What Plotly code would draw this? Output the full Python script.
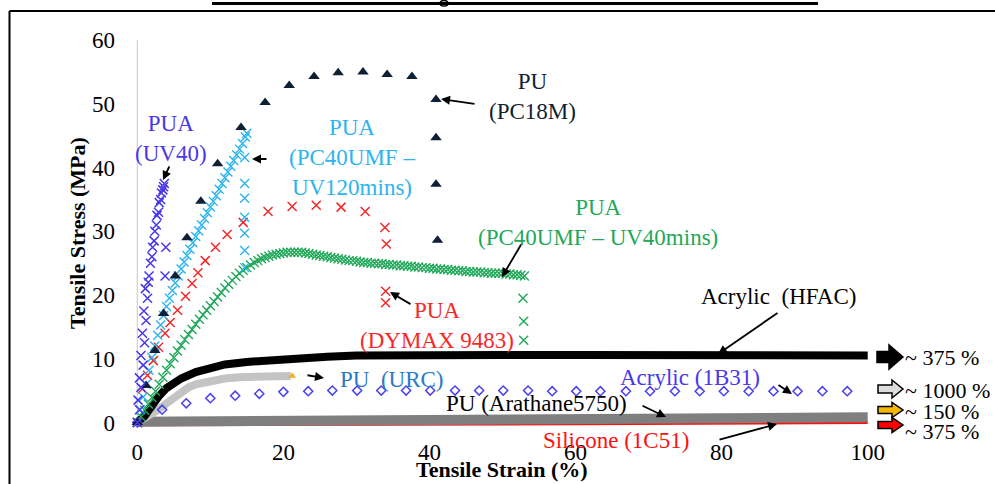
import plotly.graph_objects as go

# ---------------- data ----------------
uv40_strain = [0.0, 0.3, 0.1, 0.5, 0.3, 0.8, 0.5, 1.0, 0.7, 1.2, 0.9, 1.4, 1.1, 1.6, 1.5,
               2.0, 1.8, 2.3, 2.1, 2.6, 2.4, 2.9, 2.7, 3.2, 3.0, 3.5, 3.3, 3.7, 3.6, 3.9, 3.8]
uv40_stress = [0.0, 2.0, 3.5, 5.5, 7.0, 9.0, 10.5, 12.5, 14.0, 16.0, 17.5, 19.5, 21.0, 23.0, 22.0,
               26.0, 25.0, 28.5, 27.5, 31.0, 30.0, 33.0, 32.5, 35.0, 34.5, 36.5, 36.0, 37.5, 37.0, 27.5, 23.0]

uv120_strain = [0.0, 0.4, 0.8, 1.2, 1.6, 2.0, 2.4, 2.8, 3.2, 3.6, 4.0, 4.4, 4.8, 5.2, 5.6, 6.0,
                6.4, 6.8, 7.2, 7.6, 8.0, 8.4, 8.8, 9.2, 9.6, 10.0, 10.4, 10.8, 11.2, 11.6, 12.0,
                12.4, 12.8, 13.2, 13.6, 14.0, 14.4, 14.8, 15.0,
                14.7, 14.7, 14.7, 14.7, 14.7, 14.7, 14.7]
uv120_stress = [0.0, 2.0, 4.0, 6.0, 8.2, 10.2, 12.0, 13.7, 15.3, 16.8, 18.2, 19.5, 20.7, 21.9, 23.0, 24.1,
                25.2, 26.2, 27.2, 28.2, 29.2, 30.1, 31.0, 32.0, 32.9, 33.8, 34.7, 35.6, 36.6, 37.5, 38.4,
                39.3, 40.2, 41.1, 42.0, 42.9, 43.8, 44.8, 45.4,
                41.6, 37.5, 35.2, 32.2, 29.7, 27.0, 24.3]

pc18m_strain = [0.0, 1.2, 2.4, 3.6, 5.2, 6.8, 8.7, 11.0, 14.2, 17.5, 20.8, 24.2, 27.5, 30.9, 34.2,
                37.6, 40.9, 40.9, 40.9, 41.1]
pc18m_stress = [0.0, 5.8, 11.3, 17.1, 23.0, 29.0, 34.7, 40.6, 46.3, 50.2, 52.9, 54.3, 54.9, 55.0, 54.6,
                54.3, 50.7, 44.7, 37.4, 28.6]

dymax_strain = [0.0, 0.7, 1.4, 2.2, 2.9, 3.8, 4.5, 5.5, 6.6, 7.5, 8.3, 9.3, 10.7, 12.3, 14.5,
                17.9, 21.2, 24.5, 27.9, 31.2, 33.9, 34.1, 34.0, 34.0]
dymax_stress = [0.0, 5.3, 7.4, 9.7, 11.8, 14.0, 15.7, 17.6, 19.8, 21.8, 23.5, 25.4, 27.5, 29.5, 31.4,
                33.1, 33.9, 34.1, 33.8, 33.1, 30.6, 28.0, 20.6, 18.8]

uv40m_strain = [0.0, 0.5, 1.0, 1.5, 2.0, 2.5, 3.0, 3.5, 4.0, 4.5, 5.0, 5.5, 6.0, 6.5, 7.0, 7.5,
                8.0, 8.5, 9.0, 9.5, 10.0, 10.5, 11.0, 11.5, 12.0, 12.5, 13.0, 13.5, 14.0, 14.5,
                15.0, 15.5, 16.0, 16.5, 17.0, 17.5, 18.0, 18.5, 19.0, 19.5, 20.0, 20.5, 21.0,
                21.5, 22.0, 22.5, 23.0, 23.5, 24.0, 24.5, 25.0, 25.5, 26.0, 26.5, 27.0, 27.5,
                28.0, 28.5, 29.0, 29.5, 30.0, 30.5, 31.0, 31.5, 32.0, 32.5, 33.0, 33.5, 34.0,
                34.5, 35.0, 35.5, 36.0, 36.5, 37.0, 37.5, 38.0, 38.5, 39.0, 39.5, 40.0, 40.5,
                41.0, 41.5, 42.0, 42.5, 43.0, 43.5, 44.0, 44.5, 45.0, 45.5, 46.0, 46.5, 47.0,
                47.5, 48.0, 48.5, 49.0, 49.5, 50.0, 50.5, 51.0, 51.5, 52.0, 52.5, 53.0,
                52.8, 52.9, 52.9]
uv40m_stress = [0.0, 0.9, 1.9, 2.9, 3.9, 4.9, 6.0, 7.1, 8.2, 9.2, 10.2, 11.2, 12.1, 13.0, 13.8, 14.6,
                15.4, 16.2, 16.9, 17.6, 18.3, 19.0, 19.7, 20.4, 21.1, 21.7, 22.3, 22.9, 23.4, 23.9,
                24.3, 24.7, 25.1, 25.4, 25.7, 25.9, 26.1, 26.3, 26.4, 26.5, 26.6, 26.7, 26.7,
                26.7, 26.7, 26.7, 26.6, 26.5, 26.4, 26.3, 26.2, 26.1, 26.0, 25.9, 25.8, 25.7,
                25.6, 25.5, 25.4, 25.4, 25.3, 25.2, 25.1, 25.1, 25.0, 25.0, 24.9, 24.9, 24.8,
                24.8, 24.7, 24.7, 24.6, 24.6, 24.5, 24.5, 24.4, 24.4, 24.3, 24.3, 24.2, 24.2,
                24.1, 24.1, 24.0, 24.0, 23.9, 23.9, 23.8, 23.8, 23.7, 23.7, 23.6, 23.6, 23.6,
                23.5, 23.5, 23.4, 23.4, 23.4, 23.4, 23.3, 23.3, 23.2, 23.2, 23.1, 23.0,
                19.5, 15.9, 12.9]

hfac_strain = [0, 0.5, 1, 1.5, 2, 3, 4, 5, 6, 8, 10, 12, 15, 18, 22, 26, 30, 35, 40, 50, 60, 70, 80, 90, 100]
hfac_stress = [0, 0.4, 1.0, 1.8, 2.7, 4.2, 5.4, 6.2, 6.9, 7.9, 8.6, 9.1, 9.5, 9.8, 10.1, 10.3, 10.5,
               10.6, 10.6, 10.6, 10.6, 10.5, 10.5, 10.5, 10.5]

urc_strain = [0, 1, 2, 3, 4, 5, 6, 7, 8, 10, 12, 14, 16, 18, 20, 21]
urc_stress = [0, 0.6, 1.3, 2.1, 3.0, 3.9, 4.8, 5.5, 6.0, 6.6, 6.9, 7.1, 7.2, 7.3, 7.3, 7.3]
urc_end_strain = [21.2]
urc_end_stress = [7.3]

b31_strain = [0.0, 3.4, 6.7, 10.0, 13.4, 16.7, 20.0, 23.4, 26.7, 30.1, 33.4, 36.8, 40.1, 43.5, 46.8,
              50.1, 53.5, 56.8, 60.1, 63.4, 66.9, 70.2, 73.6, 77.0, 80.3, 83.7, 87.1, 90.4, 93.8, 97.2]
b31_stress = [0.0, 2.0, 3.0, 3.8, 4.2, 4.5, 4.8, 4.9, 5.0, 5.0, 5.0, 5.0, 5.0, 5.0, 5.0,
              5.0, 5.0, 4.9, 4.9, 4.9, 4.9, 4.9, 4.9, 4.9, 4.9, 4.9, 4.9, 4.9, 4.9, 4.9]

ara_strain = [0, 5, 10, 20, 30, 40, 50, 60, 70, 80, 90, 100]
ara_stress = [0.1, 0.15, 0.2, 0.3, 0.4, 0.55, 0.6, 0.65, 0.7, 0.75, 0.8, 0.8]

sil_strain = [0, 10, 20, 30, 40, 50, 60, 70, 80, 90, 100]
sil_stress = [-0.35, -0.35, -0.3, -0.3, -0.25, -0.25, -0.2, -0.15, -0.1, -0.05, 0.0]

x_ticks = [0, 20, 40, 60, 80, 100]
y_ticks = [0, 10, 20, 30, 40, 50, 60]

elong_labels = ["~ 375 %", "~ 1000 %", "~ 150 %", "~ 375 %"]

# ---------------- layout geometry ----------------
W, H = 995, 484
ML, MR, MT, MB = 130, 120, 37, 52
FONT = "Liberation Serif"


def PX(px):
    return (px - ML) / (W - ML - MR)


def PY(py):
    return (H - MB - py) / (H - MT - MB)


fig = go.Figure()


def xmarks(x, y, color, size=9, width=1.5, symbol="x-thin-open"):
    fig.add_trace(go.Scatter(x=x, y=y, mode="markers", cliponaxis=False,
                             marker=dict(symbol=symbol, size=size, color=color,
                                         line=dict(color=color, width=width))))


def band(x, y, color, width):
    fig.add_trace(go.Scatter(x=x, y=y, mode="lines", line=dict(color=color, width=width)))


band(sil_strain, sil_stress, "#ff1010", 3)
band(ara_strain, ara_stress, "#7f7f7f", 10)
band(urc_strain, urc_stress, "#c4c4c4", 8)
xmarks(urc_end_strain, urc_end_stress, "#f0b020", size=7, width=0, symbol="triangle-up")
band(hfac_strain, hfac_stress, "#000000", 8)
xmarks(b31_strain, b31_stress, "#4a3ff0", size=7, width=1.5, symbol="diamond-open")
xmarks(uv40m_strain, uv40m_stress, "#22a85a", size=9, width=1.4)
xmarks(dymax_strain, dymax_stress, "#f52828", size=9, width=1.5)
xmarks(uv120_strain, uv120_stress, "#2cb4ee", size=9, width=1.4)
xmarks(pc18m_strain, pc18m_stress, "#0f1f36", size=10, width=0, symbol="triangle-up")
xmarks(uv40_strain, uv40_stress, "#4a38e6", size=9, width=1.5)

# ---------------- shapes ----------------
shapes = []
shapes.append(dict(type="line", xref="x", yref="y", x0=0, x1=0, y0=0, y1=60,
                   line=dict(color="#d0d0d0", width=1.2), layer="below"))
shapes.append(dict(type="line", xref="paper", yref="paper", x0=PX(9.5), x1=PX(1000),
                   y0=PY(11), y1=PY(11), line=dict(color="black", width=2)))
shapes.append(dict(type="line", xref="paper", yref="paper", x0=PX(9.5), x1=PX(9.5),
                   y0=PY(11), y1=PY(490), line=dict(color="black", width=2)))
shapes.append(dict(type="line", xref="paper", yref="paper", x0=PX(212), x1=PX(818),
                   y0=PY(3.5), y1=PY(3.5), line=dict(color="black", width=3)))
shapes.append(dict(type="circle", xref="paper", yref="paper", x0=PX(440), x1=PX(448),
                   y0=PY(0.5), y1=PY(6), line=dict(color="black", width=1.5)))


def block_arrow(x0, xh, x1, yc, hb, hh, fill):
    pts = [(x0, yc - hb), (xh, yc - hb), (xh, yc - hh), (x1, yc), (xh, yc + hh),
           (xh, yc + hb), (x0, yc + hb)]
    path = "M " + " L ".join(f"{PX(a):.5f},{PY(b):.5f}" for a, b in pts) + " Z"
    return dict(type="path", xref="paper", yref="paper", path=path,
                fillcolor=fill, line=dict(color="black", width=1.5))


shapes.append(block_arrow(877, 889, 903, 357, 5.5, 12, "#000000"))
shapes.append(block_arrow(878, 892, 903, 389, 4, 9, "#dcdcdc"))
shapes.append(block_arrow(878, 892, 903, 410, 3.5, 7.5, "#f5b800"))
shapes.append(block_arrow(878, 892, 903, 425, 3.5, 7.5, "#ff0000"))

# ---------------- annotations ----------------
ann = []


def label(text, cx, cy, color, size=23, bold=False, angle=0):
    t = f"<b>{text}</b>" if bold else text
    ann.append(dict(text=t, x=PX(cx), y=PY(cy), xref="paper", yref="paper",
                    xanchor="center", yanchor="middle", showarrow=False, textangle=angle,
                    font=dict(family=FONT, size=size, color=color)))


def arrow(tx, ty, hx, hy):
    ann.append(dict(text="", x=PX(hx), y=PY(hy), xref="paper", yref="paper",
                    ax=tx - hx, ay=ty - hy, showarrow=True, arrowhead=2, arrowsize=1,
                    arrowwidth=1.8, arrowcolor="black"))


label("PUA<br>(UV40)", 171, 138, "#4a38e6")
label("PUA<br>(PC40UMF –<br>UV120mins)", 352, 157, "#2cb4ee")
label("PU<br>(PC18M)", 532, 96, "#0f1f36")
label("PUA<br>(PC40UMF – UV40mins)", 598, 222, "#22a85a")
label("PUA<br>(DYMAX 9483)", 437, 325, "#f52828")
label("Acrylic&nbsp; (HFAC)", 778, 296, "black")
label("PU&nbsp; (URC)", 392, 379, "#2a7ac6")
label("Acrylic (1B31)", 690, 377, "#4a38e6")
label("PU (Arathane5750)", 536, 403, "black")
label("Silicone (1C51)", 616, 440, "#ff1010")

arrow(170, 165, 163, 180)
arrow(268, 159, 252, 159)
arrow(476, 104, 441, 99)
arrow(522, 243, 502, 277)
arrow(412, 305, 390, 292)
arrow(779, 312, 718, 354)
arrow(306, 375, 324, 378)
arrow(777, 384, 792, 394)
arrow(641, 405, 666, 417)
arrow(718, 440, 777, 424)

for txt, cy in zip(elong_labels, [357, 390, 411, 431]):
    ann.append(dict(text=txt, x=PX(903), y=PY(cy), xref="paper", yref="paper",
                    xanchor="left", yanchor="middle", showarrow=False,
                    font=dict(family=FONT, size=22, color="black")))

label("Tensile Stress (MPa)", 77, 233, "black", size=22, bold=True, angle=-90)
label("Tensile Strain (%)", 502, 469, "black", size=22, bold=True)

fig.update_layout(
    width=W, height=H, margin=dict(l=ML, r=MR, t=MT, b=MB, pad=0),
    paper_bgcolor="white", plot_bgcolor="white", showlegend=False,
    shapes=shapes, annotations=ann,
    font=dict(family=FONT, size=23, color="black"),
    xaxis=dict(range=[-1, 101], tickvals=x_ticks, showgrid=False, zeroline=False,
               showline=False, ticks="", ticklabelstandoff=4,
               tickfont=dict(family=FONT, size=23, color="black")),
    yaxis=dict(range=[-1.5, 60.5], tickvals=y_ticks, showgrid=False, zeroline=False,
               showline=False, ticks="", ticklabelstandoff=14,
               tickfont=dict(family=FONT, size=23, color="black")),
)

fig.write_html("out.html")
